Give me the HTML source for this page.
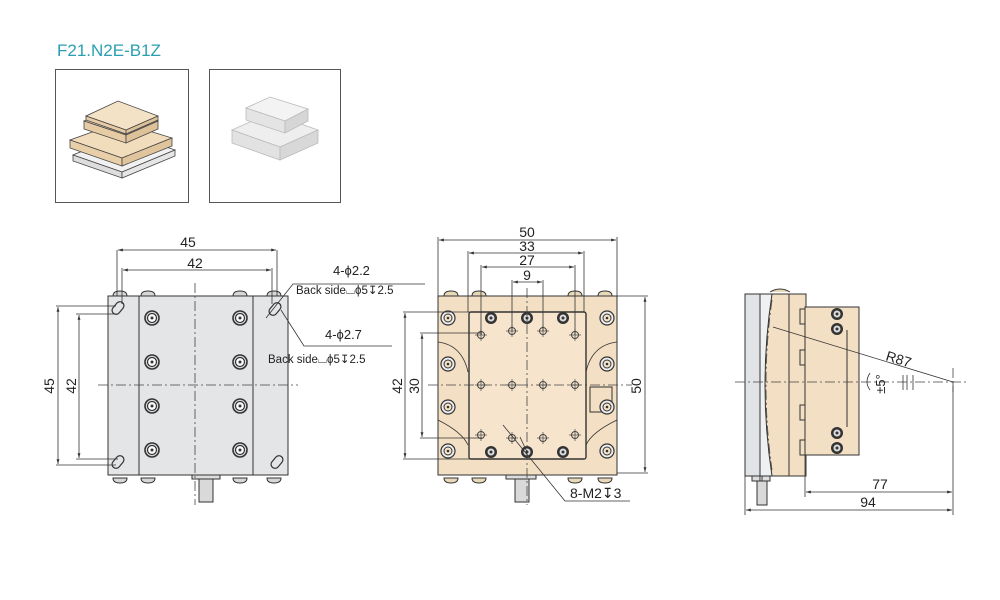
<!DOCTYPE html>
<html><head><meta charset="utf-8"><style>
html,body{margin:0;padding:0;background:#fff;width:1000px;height:600px;overflow:hidden}
svg{display:block}
text{font-family:"Liberation Sans",sans-serif;fill:#222}
</style></head><body>
<svg width="1000" height="600" viewBox="0 0 1000 600" xmlns="http://www.w3.org/2000/svg">
<defs>
<g id="scr"><circle r="7" fill="#ddd" stroke="#333" stroke-width="1.6"/><circle r="4.5" fill="#fff" stroke="#333" stroke-width="1.2"/><circle r="1.5" fill="#333"/></g>
<g id="scrT"><circle r="7" fill="#eee" stroke="#333" stroke-width="1.2"/><circle r="4" fill="#f5e3c9" stroke="#333" stroke-width="1"/><circle r="1.3" fill="#333"/></g>
<g id="hole"><circle r="3.5" fill="none" stroke="#444" stroke-width="1"/><line x1="-6" y1="0" x2="6" y2="0" stroke="#444" stroke-width=".7"/><line x1="0" y1="-6" x2="0" y2="6" stroke="#444" stroke-width=".7"/></g>
<g id="cb"><circle r="6" fill="#333"/><circle r="3.5" fill="#ddd"/><circle r="1.5" fill="#333"/></g>
<g id="slot"><rect x="-4" y="-7" width="8" height="14" rx="4" fill="none" stroke="#333" stroke-width="1.2" transform="rotate(40)"/></g>
<g id="bump"><path d="M-7,0 Q-7,-5 0,-5 Q7,-5 7,0 Z" fill="#e8d9b8" stroke="#333" stroke-width="1"/></g>
<g id="bumpG"><path d="M-7,0 Q-7,-5 0,-5 Q7,-5 7,0 Z" fill="#d7d7d7" stroke="#333" stroke-width="1"/></g>
<marker id="a" viewBox="0 0 10 10" refX="10" refY="5" markerWidth="6" markerHeight="6" orient="auto-start-reverse"><path d="M0,2 L10,5 L0,8 z" fill="#333"/></marker>
</defs>

<text x="57" y="56" font-size="17" style="fill:#2a9fb1">F21.N2E-B1Z</text>
<rect x="55.5" y="69.5" width="133" height="133" fill="#fff" stroke="#555"/>
<rect x="209.5" y="69.5" width="131" height="133" fill="#fff" stroke="#555"/>
<!-- iso thumbnail 1 -->
<g stroke="#444" stroke-width=".8">
<polygon points="73,155 122,172 175,150 126,133" fill="#f1f1f1"/>
<polygon points="73,155 122,172 122,178 73,161" fill="#ddd"/>
<polygon points="122,172 175,150 175,156 122,178" fill="#e6e6e6"/>
<polygon points="70,140 122,158 172,138 120,122" fill="#f1dcbc"/>
<polygon points="70,140 122,158 122,166 70,148" fill="#e8cfa8"/>
<polygon points="122,158 172,138 172,146 122,166" fill="#dfc49c"/>
<polygon points="84,121 126,135 158,121 116,107" fill="#f1dcbc"/>
<polygon points="84,121 126,135 126,143 84,129" fill="#e6cba4"/>
<polygon points="126,135 158,121 158,129 126,143" fill="#dcc199"/>
<polygon points="86,116 126,130 158,116 118,101" fill="#f4e2c6"/>
<polygon points="86,116 126,130 126,134 86,120" fill="#e6cba4"/>
<polygon points="126,130 158,116 158,120 126,134" fill="#dcc199"/>
</g>
<!-- iso thumbnail 2 -->
<g stroke="#bbb" stroke-width=".8">
<polygon points="232,130 280,147 318,130 270,113" fill="#eee"/>
<polygon points="232,130 280,147 280,160 232,143" fill="#e2e2e2"/>
<polygon points="280,147 318,130 318,143 280,160" fill="#d8d8d8"/>
<polygon points="246,108 285,121 308,109 270,97" fill="#f3f3f3"/>
<polygon points="246,108 285,121 285,133 246,120" fill="#e4e4e4"/>
<polygon points="285,121 308,109 308,121 285,133" fill="#d6d6d6"/>
</g>

<!-- LEFT VIEW -->
<g stroke="#333" stroke-width="1">
<use href="#bumpG" x="120" y="296"/><use href="#bumpG" x="148" y="296"/><use href="#bumpG" x="240" y="296"/><use href="#bumpG" x="274" y="296"/>
<use href="#bumpG" x="120" y="478" transform="rotate(180 120 478)"/><use href="#bumpG" x="148" y="478" transform="rotate(180 148 478)"/><use href="#bumpG" x="240" y="478" transform="rotate(180 240 478)"/><use href="#bumpG" x="274" y="478" transform="rotate(180 274 478)"/>
<rect x="108" y="296" width="180" height="179" fill="#e4e5e7"/>
<line x1="139" y1="296" x2="139" y2="475"/><line x1="253" y1="296" x2="253" y2="475"/>
<rect x="199" y="475" width="14" height="27" fill="#d9d9d9"/>
<rect x="192" y="475" width="28" height="4" fill="#ddd"/>
</g>
<use href="#scr" x="152" y="318"/><use href="#scr" x="240" y="318"/>
<use href="#scr" x="152" y="362"/><use href="#scr" x="240" y="362"/>
<use href="#scr" x="152" y="406"/><use href="#scr" x="240" y="406"/>
<use href="#scr" x="152" y="450"/><use href="#scr" x="240" y="450"/>
<use href="#slot" x="118" y="308"/><use href="#slot" x="275" y="309"/><use href="#slot" x="118" y="462"/><use href="#slot" x="277" y="462"/>
<g stroke="#444" stroke-width=".8" stroke-dasharray="10,3,2,3" fill="none">
<line x1="195" y1="283" x2="195" y2="505"/><line x1="98" y1="385" x2="298" y2="385"/>
</g>
<g stroke="#333" stroke-width=".8" fill="none">
<line x1="117" y1="250" x2="117" y2="296"/><line x1="277" y1="250" x2="277" y2="296"/>
<line x1="122" y1="268" x2="122" y2="304"/><line x1="272" y1="268" x2="272" y2="304"/>
<line x1="118" y1="250" x2="276" y2="250" marker-start="url(#a)" marker-end="url(#a)"/>
<line x1="123" y1="270" x2="271" y2="270" marker-start="url(#a)" marker-end="url(#a)"/>
<line x1="56" y1="306" x2="116" y2="306"/><line x1="56" y1="465" x2="116" y2="465"/>
<line x1="76" y1="314" x2="118" y2="314"/><line x1="76" y1="459" x2="118" y2="459"/>
<line x1="58" y1="307" x2="58" y2="464" marker-start="url(#a)" marker-end="url(#a)"/>
<line x1="79" y1="315" x2="79" y2="458" marker-start="url(#a)" marker-end="url(#a)"/>
<polyline points="266,318 293,284 425,284"/>
<polyline points="281,310 304,346 392,346"/>
</g>
<text x="188" y="247" font-size="14" text-anchor="middle">45</text>
<text x="195" y="268" font-size="14" text-anchor="middle">42</text>
<text transform="translate(54,386) rotate(-90)" font-size="14" text-anchor="middle">45</text>
<text transform="translate(76,386) rotate(-90)" font-size="14" text-anchor="middle">42</text>
<text x="333" y="275" font-size="13">4-ϕ2.2</text>
<text x="296" y="294" font-size="11.5">Back side⌴ϕ5↧2.5</text>
<text x="325" y="339" font-size="13">4-ϕ2.7</text>
<text x="268" y="363" font-size="11.5">Back side⌴ϕ5↧2.5</text>

<!-- MIDDLE VIEW -->
<g stroke="#333" stroke-width="1">
<use href="#bump" x="451" y="296"/><use href="#bump" x="479" y="296"/><use href="#bump" x="575" y="296"/><use href="#bump" x="605" y="296"/>
<use href="#bump" x="479" y="478" transform="rotate(180 479 478)"/><use href="#bump" x="575" y="478" transform="rotate(180 575 478)"/><use href="#bump" x="605" y="478" transform="rotate(180 605 478)"/><use href="#bump" x="451" y="478" transform="rotate(180 451 478)"/>
<rect x="438" y="296" width="179" height="179" fill="#f3dfc3"/>
<rect x="469" y="312" width="117" height="147" rx="2" fill="#f6e5cc" stroke-width="1.4"/>
<rect x="590" y="387" width="22" height="25" fill="#f3dfc3"/>
<rect x="515" y="475" width="14" height="27" fill="#d9d9d9"/>
<rect x="506" y="475" width="30" height="4" fill="#ddd"/>
<path d="M438,342 Q462,345 468,372" fill="none" stroke-width=".8"/>
<path d="M617,342 Q592,345 586,372" fill="none" stroke-width=".8"/>
<path d="M438,420 Q462,432 468,445" fill="none" stroke-width=".8"/>
<path d="M617,420 Q592,432 586,445" fill="none" stroke-width=".8"/>
</g>
<use href="#scrT" x="448" y="318"/><use href="#scrT" x="448" y="364"/><use href="#scrT" x="448" y="407"/><use href="#scrT" x="448" y="451"/>
<use href="#scrT" x="607" y="318"/><use href="#scrT" x="607" y="364"/><use href="#scrT" x="607" y="407"/><use href="#scrT" x="607" y="451"/>
<use href="#cb" x="491" y="318"/><use href="#cb" x="527" y="318"/><use href="#cb" x="563" y="318"/>
<use href="#cb" x="491" y="452"/><use href="#cb" x="527" y="452"/><use href="#cb" x="563" y="452"/>
<use href="#hole" x="481" y="335"/><use href="#hole" x="512" y="331"/><use href="#hole" x="543" y="331"/><use href="#hole" x="575" y="335"/>
<use href="#hole" x="481" y="385"/><use href="#hole" x="512" y="385"/><use href="#hole" x="543" y="385"/><use href="#hole" x="575" y="385"/>
<use href="#hole" x="481" y="435"/><use href="#hole" x="512" y="438"/><use href="#hole" x="543" y="438"/><use href="#hole" x="575" y="435"/>
<g stroke="#444" stroke-width=".8" stroke-dasharray="10,3,2,3" fill="none">
<line x1="527" y1="288" x2="527" y2="505"/><line x1="428" y1="385" x2="632" y2="385"/>
</g>
<g stroke="#333" stroke-width=".8" fill="none">
<line x1="438" y1="237" x2="438" y2="296"/><line x1="617" y1="237" x2="617" y2="296"/>
<line x1="468" y1="251" x2="468" y2="312"/><line x1="584" y1="251" x2="584" y2="312"/>
<line x1="481" y1="265" x2="481" y2="335"/><line x1="575" y1="265" x2="575" y2="335"/>
<line x1="512" y1="280" x2="512" y2="331"/><line x1="543" y1="280" x2="543" y2="331"/>
<line x1="439" y1="240" x2="616" y2="240" marker-start="url(#a)" marker-end="url(#a)"/>
<line x1="469" y1="253" x2="583" y2="253" marker-start="url(#a)" marker-end="url(#a)"/>
<line x1="482" y1="267" x2="574" y2="267" marker-start="url(#a)" marker-end="url(#a)"/>
<line x1="513" y1="282" x2="542" y2="282" marker-start="url(#a)" marker-end="url(#a)"/>
<line x1="617" y1="296" x2="648" y2="296"/><line x1="617" y1="473" x2="648" y2="473"/>
<line x1="645" y1="297" x2="645" y2="472" marker-start="url(#a)" marker-end="url(#a)"/>
<line x1="403" y1="312" x2="488" y2="312"/><line x1="403" y1="459" x2="488" y2="459"/>
<line x1="420" y1="333" x2="482" y2="333"/><line x1="420" y1="438" x2="482" y2="438"/>
<line x1="405" y1="313" x2="405" y2="458" marker-start="url(#a)" marker-end="url(#a)"/>
<line x1="422" y1="334" x2="422" y2="437" marker-start="url(#a)" marker-end="url(#a)"/>
<polyline points="503,425 565,501 630,501"/>
<line x1="520" y1="437" x2="527" y2="452"/>
</g>
<text x="527" y="237" font-size="14" text-anchor="middle">50</text>
<text x="527" y="251" font-size="14" text-anchor="middle">33</text>
<text x="527" y="265" font-size="14" text-anchor="middle">27</text>
<text x="527" y="280" font-size="14" text-anchor="middle">9</text>
<text transform="translate(641,386) rotate(-90)" font-size="14" text-anchor="middle">50</text>
<text transform="translate(402,386) rotate(-90)" font-size="14" text-anchor="middle">42</text>
<text transform="translate(419,386) rotate(-90)" font-size="14" text-anchor="middle">30</text>
<text x="570" y="498" font-size="14">8-M2↧3</text>

<!-- RIGHT VIEW -->
<g stroke="#333" stroke-width="1">
<rect x="745" y="294" width="15" height="182" fill="#e2e3e6"/>
<rect x="760" y="294" width="30" height="182" fill="#eef0f2"/>
<path d="M772,294 L790,294 L790,476 L772,476 Q758,385 772,294 Z" fill="#f3dfc3"/>
<path d="M770,292 Q780,286 790,292" fill="#e8d9b8"/>
<rect x="789" y="294" width="17" height="182" fill="#f3dfc3"/>
<rect x="805" y="307" width="54" height="148" fill="#f3dfc3"/>
<rect x="800" y="309" width="5" height="15" fill="#f3dfc3"/><rect x="800" y="350" width="5" height="15" fill="#f3dfc3"/><rect x="800" y="405" width="5" height="15" fill="#f3dfc3"/><rect x="800" y="440" width="5" height="15" fill="#f3dfc3"/>
<line x1="847" y1="330" x2="847" y2="427"/>
<rect x="752" y="476" width="8" height="5" fill="#ddd"/><rect x="762" y="476" width="8" height="5" fill="#ddd"/>
<rect x="757" y="481" width="10" height="24" fill="#d9d9d9"/>
</g>
<use href="#cb" x="837" y="314"/><use href="#cb" x="837" y="329"/><use href="#cb" x="837" y="433"/><use href="#cb" x="837" y="448"/>
<g stroke="#444" stroke-width=".8" stroke-dasharray="10,3,2,3" fill="none">
<line x1="735" y1="382" x2="966" y2="382"/><path d="M772,300 Q760,385 772,470"/>
<line x1="953" y1="368" x2="953" y2="392"/>
</g>
<g stroke="#333" stroke-width=".8" fill="none">
<line x1="773" y1="327" x2="953" y2="382"/>
<line x1="745" y1="476" x2="745" y2="515"/><line x1="805" y1="455" x2="805" y2="497"/><line x1="953" y1="382" x2="953" y2="515"/>
<line x1="806" y1="492" x2="952" y2="492" marker-start="url(#a)" marker-end="url(#a)"/>
<line x1="746" y1="510" x2="952" y2="510" marker-start="url(#a)" marker-end="url(#a)"/>
<line x1="903" y1="375" x2="903" y2="390"/><line x1="907" y1="375" x2="907" y2="390"/><line x1="913" y1="375" x2="913" y2="390"/>
<path d="M870,373 Q864,382 870,390"/>
</g>
<text x="885" y="360" font-size="14" transform="rotate(17 885 360)">R87</text>
<text transform="translate(885,384) rotate(-90)" font-size="13" text-anchor="middle">±5°</text>
<text x="880" y="489" font-size="14" text-anchor="middle">77</text>
<text x="868" y="507" font-size="14" text-anchor="middle">94</text>
</svg>
</body></html>
